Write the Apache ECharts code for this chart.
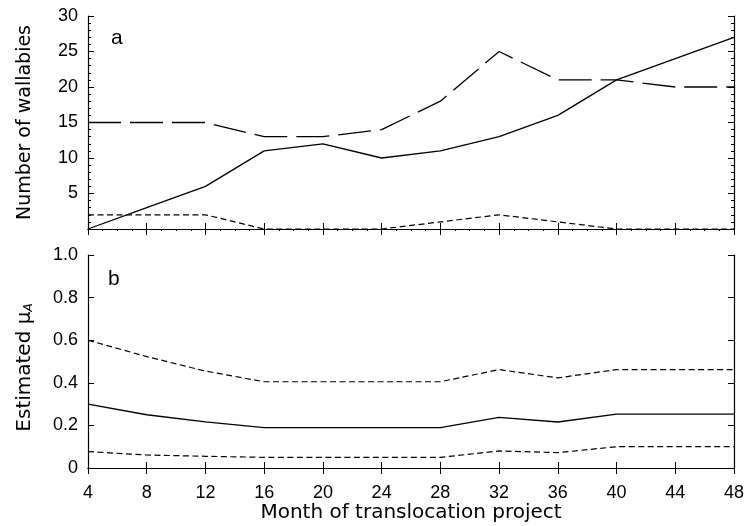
<!DOCTYPE html>
<html><head><meta charset="utf-8">
<script src="https://cdn.jsdelivr.net/npm/echarts@6/dist/echarts.min.js"></script>
<style>html,body{margin:0;padding:0;background:#fff}#c{width:747px;height:526px}</style>
</head><body><div id="c"></div>
<script>
const months = [4, 8, 12, 16, 20, 24, 28, 32, 36, 40, 44, 48];
const wallabiesSolid = [0, 3, 6, 11, 12, 10, 11, 13, 16, 21, 24, 27];
const wallabiesLongDash = [15, 15, 15, 13, 13, 14, 18, 25, 21, 21, 20, 20];
const wallabiesShortDash = [2, 2, 2, 0, 0, 0, 1, 2, 1, 0, 0, 0];
const muEstimate = [0.30, 0.25, 0.217, 0.19, 0.19, 0.19, 0.19, 0.238, 0.216, 0.253, 0.253, 0.253];
const muUpper = [0.60, 0.523, 0.455, 0.405, 0.405, 0.405, 0.405, 0.462, 0.423, 0.462, 0.462, 0.462];
const muLower = [0.077, 0.061, 0.055, 0.05, 0.05, 0.05, 0.05, 0.08, 0.072, 0.10, 0.10, 0.10];
const topTicks = [5, 10, 15, 20, 25, 30];
const bottomTicks = ['0', '0.2', '0.4', '0.6', '0.8', '1.0'];

const FONT = 'Liberation Sans';
const NAMEFONT = 'DejaVu Sans';
const pair = (xs, ys) => xs.map((x, i) => [x, ys[i]]);
const axLine = {show: true, lineStyle: {color: '#000', width: 1.2}};
const tickIn = (len) => ({show: true, inside: true, length: len, lineStyle: {color: '#000', width: 1}});
const chart = echarts.init(document.getElementById('c'), null, {renderer: 'canvas'});

function xAx(grid, pos, labels, minor) {
  return {
    type: 'value', gridIndex: grid, position: pos, min: 4, max: 48, interval: 4,
    axisLine: axLine, axisTick: tickIn(6), splitLine: {show: false},
    minorTick: minor ? {show: true, splitNumber: 4, length: 2, lineStyle: {color: '#000'}} : {show: false},
    axisLabel: labels ? {show: true, color: '#000', fontFamily: FONT, fontSize: 18, margin: 16} : {show: false},
    name: labels ? 'Month of translocation project' : '', nameLocation: 'middle', nameGap: 33,
    nameTextStyle: {color: '#000', fontFamily: NAMEFONT, fontSize: 20, verticalAlign: 'top'}
  };
}

const option = {
  animation: false,
  backgroundColor: '#fff',
  grid: [
    {left: 88, right: 13, top: 16, height: 213},
    {left: 88, right: 13, top: 255, height: 213}
  ],
  xAxis: [
    xAx(0, 'bottom', false, false),
    xAx(0, 'top', false, true),
    xAx(1, 'bottom', true, false),
    xAx(1, 'top', false, false)
  ],
  yAxis: [
    {type: 'value', gridIndex: 0, position: 'left', min: 0, max: 30, interval: 5,
     axisLine: axLine, axisTick: tickIn(6), splitLine: {show: false},
     minorTick: {show: true, splitNumber: 5, length: 3, lineStyle: {color: '#000'}},
     axisLabel: {color: '#000', fontFamily: FONT, fontSize: 18, margin: 10,
       formatter: v => topTicks.includes(v) ? String(v) : ''},
     name: 'Number of wallabies', nameLocation: 'middle', nameGap: 53,
     nameTextStyle: {color: '#000', fontFamily: NAMEFONT, fontSize: 19}},
    {type: 'value', gridIndex: 0, position: 'right', min: 0, max: 30, interval: 5,
     axisLine: axLine, axisTick: tickIn(6), splitLine: {show: false},
     minorTick: {show: true, splitNumber: 5, length: 3, lineStyle: {color: '#000'}},
     axisLabel: {show: false}},
    {type: 'value', gridIndex: 1, position: 'left', min: 0, max: 1, interval: 0.2,
     axisLine: axLine, axisTick: tickIn(6), splitLine: {show: false},
     axisLabel: {color: '#000', fontFamily: FONT, fontSize: 18, margin: 10,
       formatter: v => bottomTicks[Math.round(v * 5)]},
     name: 'Estimated μ{s|A}', nameLocation: 'middle', nameGap: 53,
     nameTextStyle: {color: '#000', fontFamily: NAMEFONT, fontSize: 20, padding: [0, 12, 0, 0],
       rich: {s: {fontFamily: NAMEFONT, fontSize: 12, fontStyle: 'italic', verticalAlign: 'bottom', color: '#000', padding: [8, 0, 0, 0]}}}},
    {type: 'value', gridIndex: 1, position: 'right', min: 0, max: 1, interval: 0.2,
     axisLine: axLine, axisTick: tickIn(6), splitLine: {show: false},
     axisLabel: {show: false}}
  ],
  graphic: [
    {type: 'text', left: 111, top: 28, style: {text: 'a', font: '21px "Liberation Sans"', fill: '#000'}},
    {type: 'text', left: 108, top: 269, style: {text: 'b', font: '21px "Liberation Sans"', fill: '#000'}}
  ],
  series: [
    {type: 'line', xAxisIndex: 0, yAxisIndex: 0, data: pair(months, wallabiesSolid), symbol: 'none',
     lineStyle: {color: '#000', width: 1.3, type: 'solid'}},
    {type: 'line', xAxisIndex: 0, yAxisIndex: 0, data: pair(months, wallabiesLongDash), symbol: 'none',
     lineStyle: {color: '#000', width: 1.3, type: [33, 9]}},
    {type: 'line', xAxisIndex: 0, yAxisIndex: 0, data: pair(months, wallabiesShortDash), symbol: 'none',
     lineStyle: {color: '#000', width: 1.2, type: [6, 3.5]}},
    {type: 'line', xAxisIndex: 2, yAxisIndex: 2, data: pair(months, muEstimate), symbol: 'none',
     lineStyle: {color: '#000', width: 1.3, type: 'solid'}},
    {type: 'line', xAxisIndex: 2, yAxisIndex: 2, data: pair(months, muUpper), symbol: 'none',
     lineStyle: {color: '#000', width: 1.2, type: [6, 3.5]}},
    {type: 'line', xAxisIndex: 2, yAxisIndex: 2, data: pair(months, muLower), symbol: 'none',
     lineStyle: {color: '#000', width: 1.2, type: [6, 3.5]}}
  ]
};
chart.setOption(option);
</script></body></html>
